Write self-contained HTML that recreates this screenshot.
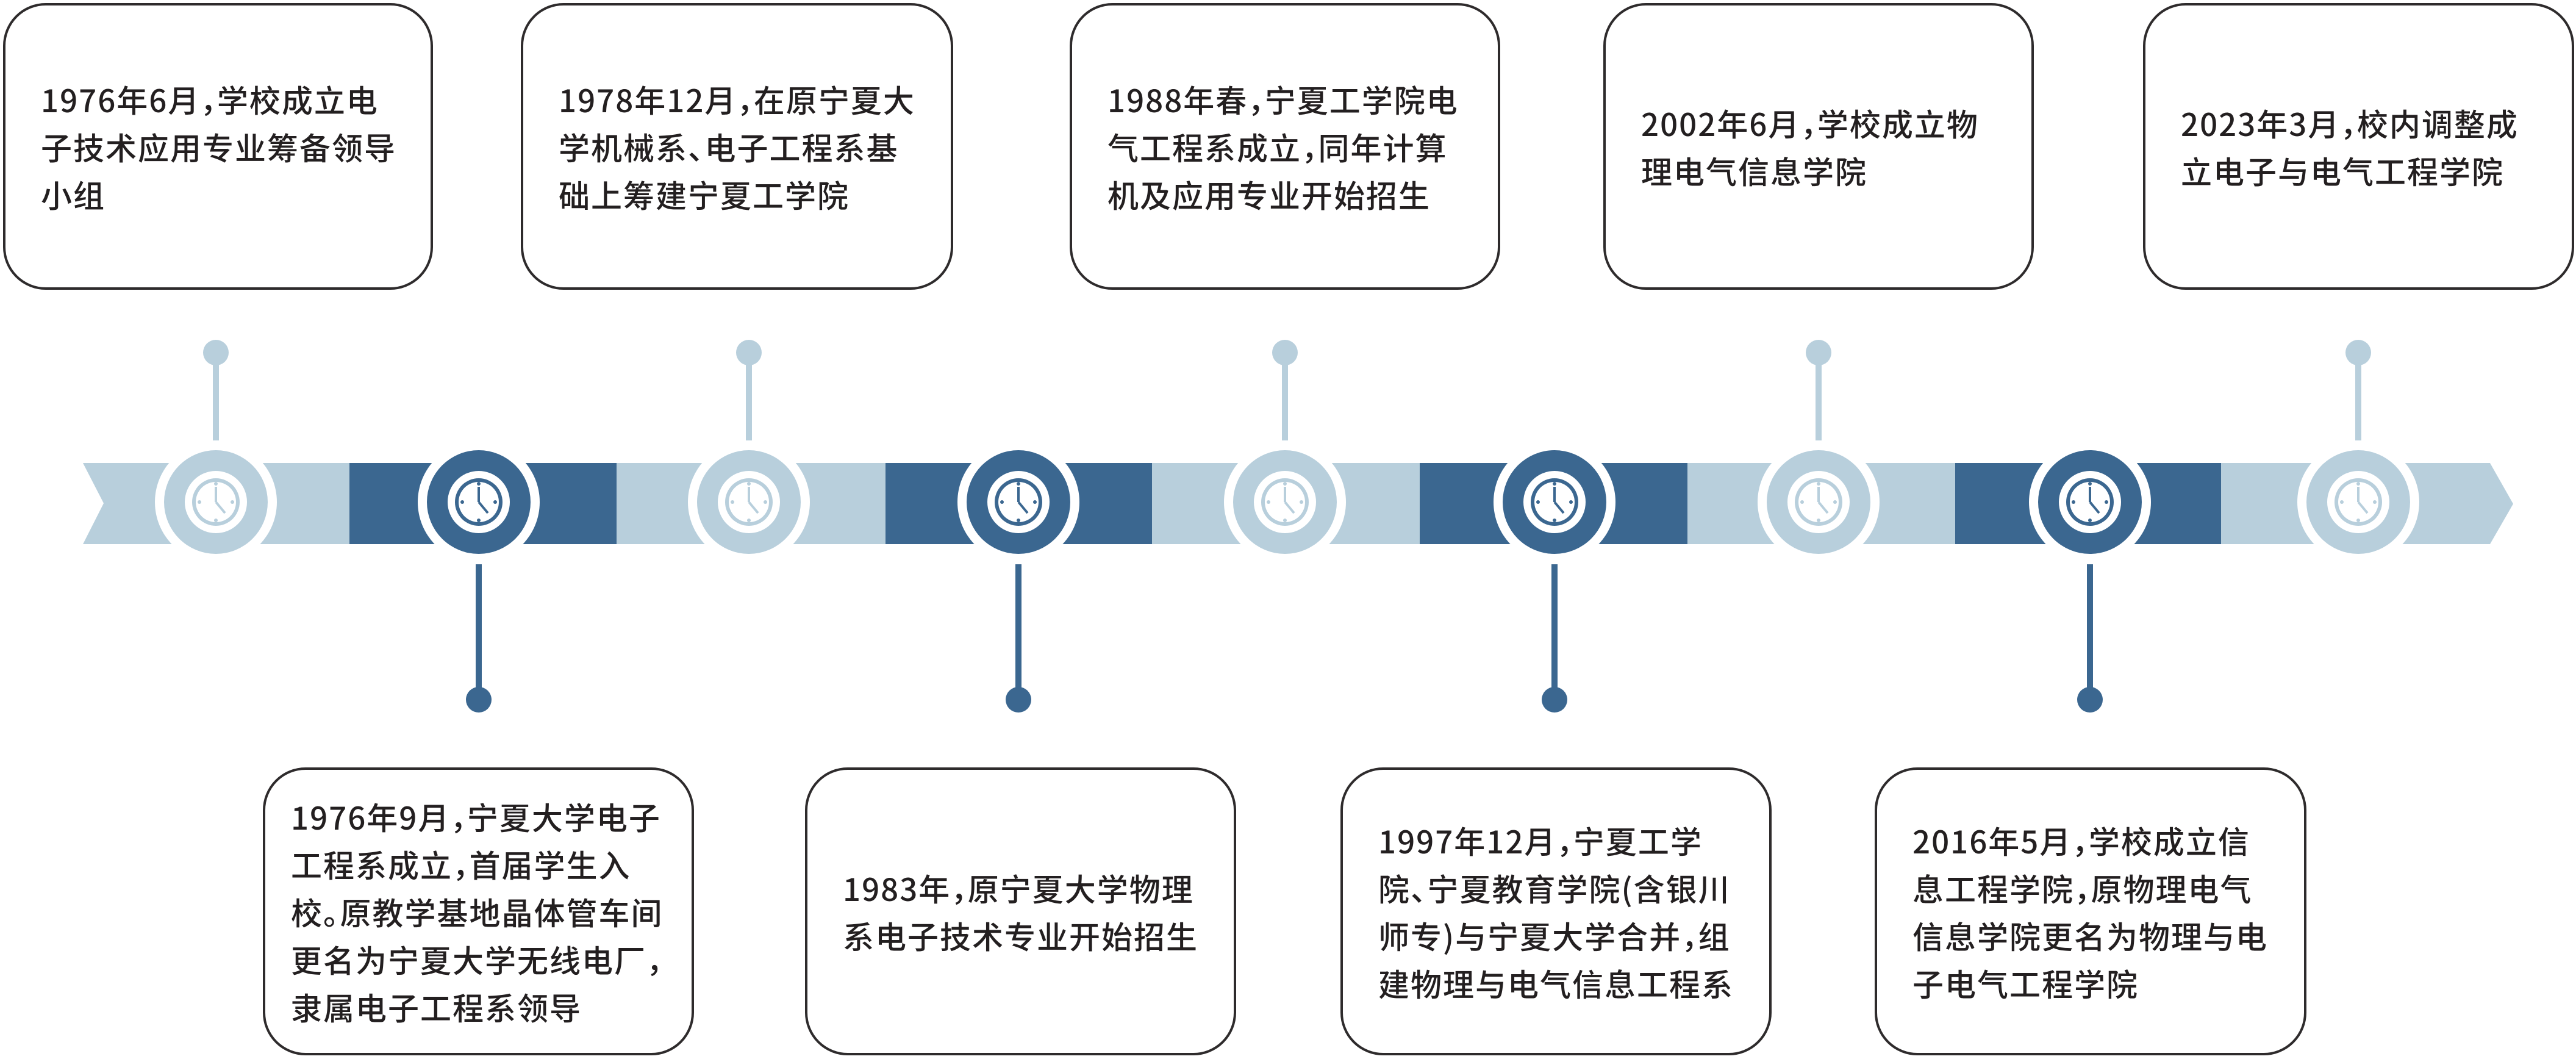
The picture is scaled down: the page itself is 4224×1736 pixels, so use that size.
<!DOCTYPE html>
<html><head><meta charset="utf-8"><style>
html,body{margin:0;padding:0;background:#fff;}
body{width:4224px;height:1736px;position:relative;overflow:hidden;font-family:"Liberation Sans","Noto Sans CJK SC",sans-serif;}
.b{position:absolute;box-sizing:border-box;border:4px solid #2e2b2c;border-radius:70px;background:#fff;display:flex;align-items:center;padding-left:58px;color:#231f20;font-size:51px;letter-spacing:2px;line-height:78px;font-weight:500;font-family:"Noto Sans CJK SC",sans-serif;font-feature-settings:"halt" 1;}
.b div{line-height:78px;}
svg{position:absolute;left:0;top:0;}
</style></head><body>
<svg width="4224" height="1736" viewBox="0 0 4224 1736">
<polygon points="136,759 573,759 573,892 136,892 170,825" fill="#b8cfdc"/>
<rect x="573" y="759" width="438" height="133" fill="#3b6790"/>
<rect x="1011" y="759" width="441" height="133" fill="#b8cfdc"/>
<rect x="1452" y="759" width="437" height="133" fill="#3b6790"/>
<rect x="1889" y="759" width="439" height="133" fill="#b8cfdc"/>
<rect x="2328" y="759" width="439" height="133" fill="#3b6790"/>
<rect x="2767" y="759" width="439" height="133" fill="#b8cfdc"/>
<rect x="3206" y="759" width="436" height="133" fill="#3b6790"/>
<polygon points="3642,759 4083,759 4121,826 4083,892 3642,892" fill="#b8cfdc"/>
<g fill="#b8cfdc">
<circle cx="354" cy="578" r="21"/><rect x="349" y="578" width="10" height="144"/>
<circle cx="1228" cy="578" r="21"/><rect x="1223" y="578" width="10" height="144"/>
<circle cx="2107" cy="578" r="21"/><rect x="2102" y="578" width="10" height="144"/>
<circle cx="2982" cy="578" r="21"/><rect x="2977" y="578" width="10" height="144"/>
<circle cx="3867" cy="578" r="21"/><rect x="3862" y="578" width="10" height="144"/>
</g>
<g fill="#3b6790">
<circle cx="785" cy="1147" r="21"/><rect x="780" y="925" width="10" height="222"/>
<circle cx="1670" cy="1147" r="21"/><rect x="1665" y="925" width="10" height="222"/>
<circle cx="2549" cy="1147" r="21"/><rect x="2544" y="925" width="10" height="222"/>
<circle cx="3427" cy="1147" r="21"/><rect x="3422" y="925" width="10" height="222"/>
</g>
<g transform="translate(354,823)" fill="#b8cfdc"><circle r="100" fill="#fff"/><circle r="85"/><circle r="51" fill="#fff"/><circle r="39"/><circle r="33" fill="#fff"/><rect x="-2" y="-25" width="4" height="25"/><line x1="0" y1="0" x2="15" y2="18" stroke="#b8cfdc" stroke-width="4"/><circle cy="-30" r="3"/><circle cy="30" r="3"/><circle cx="-27" r="3"/><circle cx="27" r="3"/></g>
<g transform="translate(785,823)" fill="#3b6790"><circle r="100" fill="#fff"/><circle r="85"/><circle r="51" fill="#fff"/><circle r="39"/><circle r="33" fill="#fff"/><rect x="-2" y="-25" width="4" height="25"/><line x1="0" y1="0" x2="15" y2="18" stroke="#3b6790" stroke-width="4"/><circle cy="-30" r="3"/><circle cy="30" r="3"/><circle cx="-27" r="3"/><circle cx="27" r="3"/></g>
<g transform="translate(1228,823)" fill="#b8cfdc"><circle r="100" fill="#fff"/><circle r="85"/><circle r="51" fill="#fff"/><circle r="39"/><circle r="33" fill="#fff"/><rect x="-2" y="-25" width="4" height="25"/><line x1="0" y1="0" x2="15" y2="18" stroke="#b8cfdc" stroke-width="4"/><circle cy="-30" r="3"/><circle cy="30" r="3"/><circle cx="-27" r="3"/><circle cx="27" r="3"/></g>
<g transform="translate(1670,823)" fill="#3b6790"><circle r="100" fill="#fff"/><circle r="85"/><circle r="51" fill="#fff"/><circle r="39"/><circle r="33" fill="#fff"/><rect x="-2" y="-25" width="4" height="25"/><line x1="0" y1="0" x2="15" y2="18" stroke="#3b6790" stroke-width="4"/><circle cy="-30" r="3"/><circle cy="30" r="3"/><circle cx="-27" r="3"/><circle cx="27" r="3"/></g>
<g transform="translate(2107,823)" fill="#b8cfdc"><circle r="100" fill="#fff"/><circle r="85"/><circle r="51" fill="#fff"/><circle r="39"/><circle r="33" fill="#fff"/><rect x="-2" y="-25" width="4" height="25"/><line x1="0" y1="0" x2="15" y2="18" stroke="#b8cfdc" stroke-width="4"/><circle cy="-30" r="3"/><circle cy="30" r="3"/><circle cx="-27" r="3"/><circle cx="27" r="3"/></g>
<g transform="translate(2549,823)" fill="#3b6790"><circle r="100" fill="#fff"/><circle r="85"/><circle r="51" fill="#fff"/><circle r="39"/><circle r="33" fill="#fff"/><rect x="-2" y="-25" width="4" height="25"/><line x1="0" y1="0" x2="15" y2="18" stroke="#3b6790" stroke-width="4"/><circle cy="-30" r="3"/><circle cy="30" r="3"/><circle cx="-27" r="3"/><circle cx="27" r="3"/></g>
<g transform="translate(2982,823)" fill="#b8cfdc"><circle r="100" fill="#fff"/><circle r="85"/><circle r="51" fill="#fff"/><circle r="39"/><circle r="33" fill="#fff"/><rect x="-2" y="-25" width="4" height="25"/><line x1="0" y1="0" x2="15" y2="18" stroke="#b8cfdc" stroke-width="4"/><circle cy="-30" r="3"/><circle cy="30" r="3"/><circle cx="-27" r="3"/><circle cx="27" r="3"/></g>
<g transform="translate(3427,823)" fill="#3b6790"><circle r="100" fill="#fff"/><circle r="85"/><circle r="51" fill="#fff"/><circle r="39"/><circle r="33" fill="#fff"/><rect x="-2" y="-25" width="4" height="25"/><line x1="0" y1="0" x2="15" y2="18" stroke="#3b6790" stroke-width="4"/><circle cy="-30" r="3"/><circle cy="30" r="3"/><circle cx="-27" r="3"/><circle cx="27" r="3"/></g>
<g transform="translate(3867,823)" fill="#b8cfdc"><circle r="100" fill="#fff"/><circle r="85"/><circle r="51" fill="#fff"/><circle r="39"/><circle r="33" fill="#fff"/><rect x="-2" y="-25" width="4" height="25"/><line x1="0" y1="0" x2="15" y2="18" stroke="#b8cfdc" stroke-width="4"/><circle cy="-30" r="3"/><circle cy="30" r="3"/><circle cx="-27" r="3"/><circle cx="27" r="3"/></g>
</svg>

<div class="b" style="left:5px;top:5px;width:705px;height:470px;"><div>1976年6月，学校成立电<br>子技术应用专业筹备领导<br>小组</div></div>
<div class="b" style="left:854px;top:5px;width:709px;height:470px;"><div>1978年12月，在原宁夏大<br>学机械系、电子工程系基<br>础上筹建宁夏工学院</div></div>
<div class="b" style="left:1754px;top:5px;width:706px;height:470px;"><div>1988年春，宁夏工学院电<br>气工程系成立，同年计算<br>机及应用专业开始招生</div></div>
<div class="b" style="left:2629px;top:5px;width:706px;height:470px;"><div>2002年6月，学校成立物<br>理电气信息学院</div></div>
<div class="b" style="left:3514px;top:5px;width:707px;height:470px;"><div>2023年3月，校内调整成<br>立电子与电气工程学院</div></div>

<div class="b" style="left:431px;top:1258px;width:707px;height:472px;padding-left:42px;"><div>1976年9月，宁夏大学电子<br>工程系成立，首届学生入<br>校。原教学基地晶体管车间<br>更名为宁夏大学无线电厂，<br>隶属电子工程系领导</div></div>
<div class="b" style="left:1320px;top:1258px;width:707px;height:472px;"><div>1983年，原宁夏大学物理<br>系电子技术专业开始招生</div></div>
<div class="b" style="left:2198px;top:1258px;width:707px;height:472px;"><div>1997年12月，宁夏工学<br>院、宁夏教育学院(含银川<br>师专)与宁夏大学合并，组<br>建物理与电气信息工程系</div></div>
<div class="b" style="left:3074px;top:1258px;width:708px;height:472px;"><div>2016年5月，学校成立信<br>息工程学院，原物理电气<br>信息学院更名为物理与电<br>子电气工程学院</div></div>
</body></html>
